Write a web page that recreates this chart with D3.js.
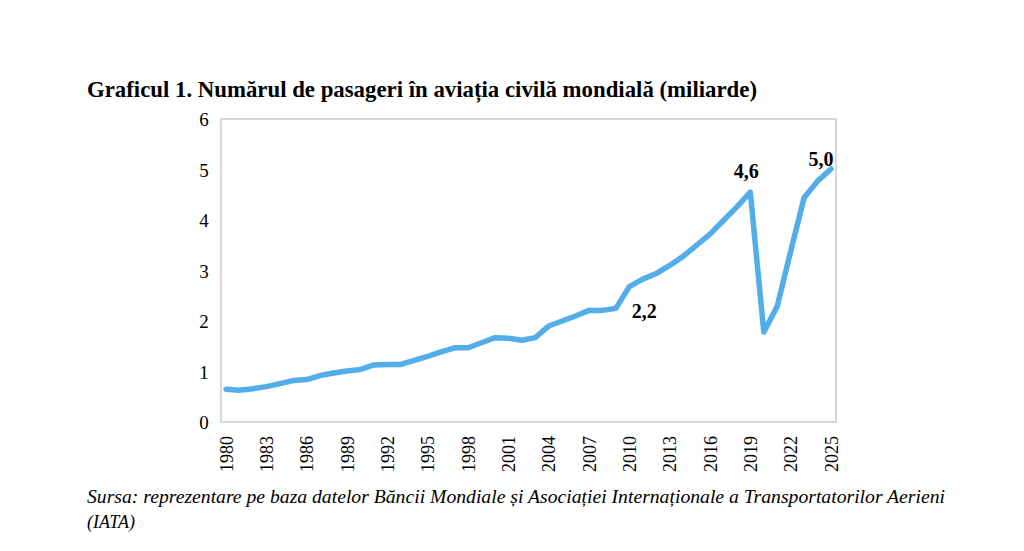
<!DOCTYPE html>
<html>
<head>
<meta charset="utf-8">
<script src="https://cdn.jsdelivr.net/npm/d3@7"></script>
<style>
  body { margin: 0; background: #fff; }
  svg { display: block; }
  text { font-family: "Liberation Serif", "Times New Roman", serif; fill: #000; }
</style>
</head>
<body>
<svg id="chart" width="1024" height="551"></svg>
<script>
// years and passengers (billions)
var years = d3.range(1980, 2026);
var passengers = [0.65, 0.63, 0.66, 0.70, 0.76, 0.82, 0.84, 0.92, 0.97, 1.01,
                  1.04, 1.13, 1.14, 1.14, 1.22, 1.30, 1.39, 1.47, 1.47, 1.57,
                  1.67, 1.66, 1.62, 1.67, 1.90, 2.00, 2.10, 2.21, 2.21, 2.25,
                  2.68, 2.83, 2.94, 3.10, 3.28, 3.50, 3.72, 3.99, 4.26, 4.55,
                  1.78, 2.29, 3.38, 4.44, 4.77, 5.01];
var yTicks = [0, 1, 2, 3, 4, 5, 6];
var xTickYears = d3.range(1980, 2026, 3);   // 1980 ... 2025
var callouts = [
    { year: 2010, text: "2,2", dx: 15, dy: 31 },
    { year: 2019, text: "4,6", dx: -4, dy: -14 },
    { year: 2025, text: "5,0", dx: -10, dy: -3 }
];

var serif = "'Liberation Serif', 'Times New Roman', serif";
var svg = d3.select("#chart");

// plot frame
var box = { left: 221, right: 836, top: 119, bottom: 422 };

var x = d3.scaleLinear()
    .domain([1980, 2025])
    .range([226, 831]);

var y = d3.scaleLinear()
    .domain([0, 6])
    .range([box.bottom, box.top]);

// title
svg.append("text")
    .attr("x", 87)
    .attr("y", 97)
    .style("font-family", serif)
    .style("font-size", "23.5px")
    .style("font-weight", "bold")
    .attr("textLength", 670)
    .attr("lengthAdjust", "spacingAndGlyphs")
    .text("Graficul 1. Numărul de pasageri în aviația civilă mondială (miliarde)");

// frame
svg.append("rect")
    .attr("x", box.left)
    .attr("y", box.top)
    .attr("width", box.right - box.left)
    .attr("height", box.bottom - box.top)
    .attr("fill", "none")
    .attr("stroke", "#c4c4c4")
    .attr("stroke-width", 1.3);

// y axis labels
var yAxis = d3.axisLeft(y)
    .tickValues(yTicks)
    .tickSize(0)
    .tickPadding(17)
    .tickFormat(d3.format("d"));

svg.append("g")
    .attr("transform", "translate(" + box.left + ",0)")
    .call(yAxis)
    .call(function(g) { g.select(".domain").remove(); })
    .selectAll("text")
        .style("font-family", serif)
        .style("font-size", "19px")
        .attr("text-anchor", "middle")
        .attr("dy", "0.35em");

// x axis labels, rotated
var xAxis = d3.axisBottom(x)
    .tickValues(xTickYears)
    .tickSize(0)
    .tickFormat(d3.format("d"));

svg.append("g")
    .attr("transform", "translate(0," + box.bottom + ")")
    .call(xAxis)
    .call(function(g) { g.select(".domain").remove(); })
    .selectAll("text")
        .style("font-family", serif)
        .style("font-size", "18px")
        .attr("text-anchor", "end")
        .attr("transform", "rotate(-90)")
        .attr("x", -14)
        .attr("y", 0)
        .attr("dy", "0.35em");

// line
var line = d3.line()
    .x(function(d, i) { return x(years[i]); })
    .y(function(d) { return y(d); });

svg.append("path")
    .datum(passengers)
    .attr("fill", "none")
    .attr("stroke", "#53ade9")
    .attr("stroke-width", 5.5)
    .attr("stroke-linejoin", "round")
    .attr("stroke-linecap", "round")
    .attr("d", line);

// callout values
svg.selectAll("text.callout")
    .data(callouts)
    .enter().append("text")
    .attr("class", "callout")
    .attr("x", function(d) { return x(d.year) + d.dx; })
    .attr("y", function(d) { return y(passengers[years.indexOf(d.year)]) + d.dy; })
    .style("font-family", serif)
    .style("font-size", "20px")
    .style("font-weight", "bold")
    .attr("text-anchor", "middle")
    .text(function(d) { return d.text; });

// source note
svg.append("text")
    .attr("x", 87)
    .attr("y", 503)
    .style("font-family", serif)
    .style("font-size", "19.5px")
    .style("font-style", "italic")
    .attr("textLength", 858)
    .attr("lengthAdjust", "spacingAndGlyphs")
    .text("Sursa: reprezentare pe baza datelor Băncii Mondiale și Asociației Internaționale a Transportatorilor Aerieni");

svg.append("text")
    .attr("x", 87)
    .attr("y", 528)
    .style("font-family", serif)
    .style("font-size", "19.5px")
    .style("font-style", "italic")
    .attr("textLength", 48)
    .attr("lengthAdjust", "spacingAndGlyphs")
    .text("(IATA)");
</script>
</body>
</html>
